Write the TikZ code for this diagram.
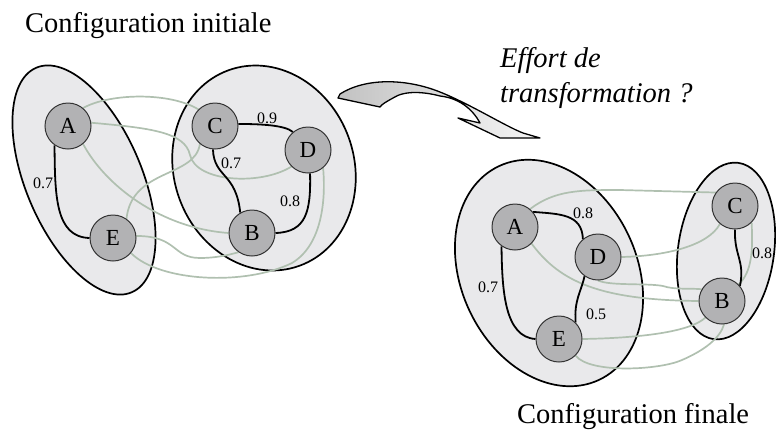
\documentclass[tikz,border=0pt]{standalone}
\usepackage{fontspec}
\setmainfont{Liberation Serif}
\definecolor{vfill}{HTML}{B2B2B4}
\definecolor{efill}{HTML}{E9E9EB}
\definecolor{wgray}{HTML}{B0C0B0}
\definecolor{arrowdark}{HTML}{C2C2C2}
\definecolor{arrowlight}{HTML}{F6F6F6}
\pgfdeclarelayer{back}
\pgfdeclarelayer{mid}
\pgfsetlayers{back,mid,main}
\begin{document}
\begin{tikzpicture}[x=1pt,y=-1pt,
  vtx/.style={circle,draw=black!80,line width=1pt,fill=vfill,minimum size=46pt,inner sep=0pt,font=\fontsize{23}{23}\selectfont},
  grp/.style={draw=black,line width=1.7pt,fill=efill},
  strong/.style={draw=black,line width=1.8pt},
  weak/.style={draw=wgray,line width=1.7pt},
  wlbl/.style={font=\fontsize{16}{16}\selectfont,inner sep=0pt},
  title/.style={font=\fontsize{28.5}{30}\selectfont,inner sep=0pt,anchor=base west}]
\useasboundingbox (0,0) rectangle (776,445);

% titles
\node[title] (t1) at (25,32) {Configuration initiale};
\node[title] (t2) at (517,423) {Configuration finale};
\node[title,font=\fontsize{28.5}{30}\selectfont\itshape] (q1) at (500,67) {Effort de};
\node[title,font=\fontsize{28.5}{30}\selectfont\itshape] (q2) at (500,102) {transformation ?};

% groups
\begin{pgfonlayer}{back}
\draw[grp, rotate around={23:(84,180)}] (84,180) ellipse [x radius=58, y radius=122];
\draw[grp, rotate around={20:(264,168)}] (264,168) ellipse [x radius=90, y radius=104];
\draw[grp, rotate around={25:(549,273)}] (549,273) ellipse [x radius=88, y radius=118];
\draw[grp, rotate around={-8:(726,251)}] (726,251) ellipse [x radius=48, y radius=89];
% arrow
\path[draw=black,line width=1.3pt,line join=round,left color=arrowdark,right color=arrowlight]
  (340,94) .. controls (365,78) and (405,78) .. (440,92)
  .. controls (470,104) and (505,126) .. (523,133) -- (540,138) -- (500,138)
  -- (458,118) -- (480,123) .. controls (472,108) and (458,98) .. (440,96)
  .. controls (425,92) and (405,90) .. (393,98) .. controls (386,102) and (382,104) .. (380,107)
  -- (338,98) -- cycle;
\end{pgfonlayer}

% vertices, initial configuration
\node[vtx] (A1) at (68,126) {A};
\node[vtx] (C1) at (215,126) {C};
\node[vtx] (D1) at (308,150) {D};
\node[vtx] (E1) at (113,238) {E};
\node[vtx] (B1) at (252,233) {B};

% vertices, final configuration
\node[vtx] (A2) at (515,227) {A};
\node[vtx] (D2) at (598,257) {D};
\node[vtx] (E2) at (559,339) {E};
\node[vtx] (C2) at (735,206) {C};
\node[vtx] (B2) at (722,301) {B};

\begin{pgfonlayer}{mid}
% weak links, initial
\draw[weak] (A1.50) .. controls (110,93) and (170,92) .. (C1.135);
\draw[weak] (A1.8) .. controls (150,128) and (185,132) .. (190,155)
  .. controls (196,182) and (260,186) .. (D1.225);
\draw[weak] (A1.-50) .. controls (105,185) and (160,228) .. (B1.180);
\draw[weak] (C1.230) .. controls (195,178) and (132,168) .. (E1.55);
\draw[weak] (E1.5) .. controls (178,236) and (172,258) .. (200,258)
  .. controls (220,258) and (235,253) .. (B1.235);
\draw[weak] (E1.-40) .. controls (160,282) and (245,286) .. (292,263)
  .. controls (322,245) and (326,200) .. (D1.-50);
% strong links, initial
\draw[strong] (A1.235) .. controls (55,195) and (55,237) .. (E1.180);
\draw[strong] (C1.5) .. controls (260,124) and (285,125) .. (D1.130);
\draw[strong] (C1.265) .. controls (214,178) and (236,172) .. (B1.120);
\draw[strong] (D1.275) .. controls (311,212) and (306,232) .. (B1.0);

% weak links, final
\draw[weak] (A2.50) .. controls (555,190) and (580,190) .. (620,190) -- (C2.145);
\draw[weak] (D2.0) .. controls (665,256) and (708,246) .. (C2.230);
\draw[weak] (A2.-45) .. controls (560,282) and (600,300) .. (B2.180);
\draw[weak] (D2.270) .. controls (610,286) and (648,283) .. (663,286)
  .. controls (675,290) and (690,288) .. (B2.150);
\draw[weak] (E2.0) .. controls (640,338) and (690,332) .. (B2.225);
\draw[weak] (E2.-45) .. controls (590,374) and (660,370) .. (682,360)
  .. controls (705,350) and (720,338) .. (B2.-85);
\draw[weak] (C2.-45) .. controls (753,250) and (752,272) .. (B2.45);
% strong links, final
\draw[strong] (A2.40) .. controls (560,214) and (582,214) .. (D2.130);
\draw[strong] (A2.235) .. controls (502,292) and (505,337) .. (E2.180);
\draw[strong] (D2.235) .. controls (581,292) and (574,300) .. (E2.45);
\draw[strong] (C2.270) .. controls (734,256) and (745,260) .. (B2.40);
\end{pgfonlayer}

% weights
\node[wlbl] (w1) at (43,183) {0.7};
\node[wlbl] (w2) at (267,118) {0.9};
\node[wlbl] (w3) at (231,163) {0.7};
\node[wlbl] (w4) at (290,201) {0.8};
\node[wlbl] (w5) at (583,213) {0.8};
\node[wlbl] (w6) at (488,287) {0.7};
\node[wlbl] (w7) at (596,314) {0.5};
\node[wlbl] (w8) at (762,253) {0.8};
\end{tikzpicture}
\end{document}
